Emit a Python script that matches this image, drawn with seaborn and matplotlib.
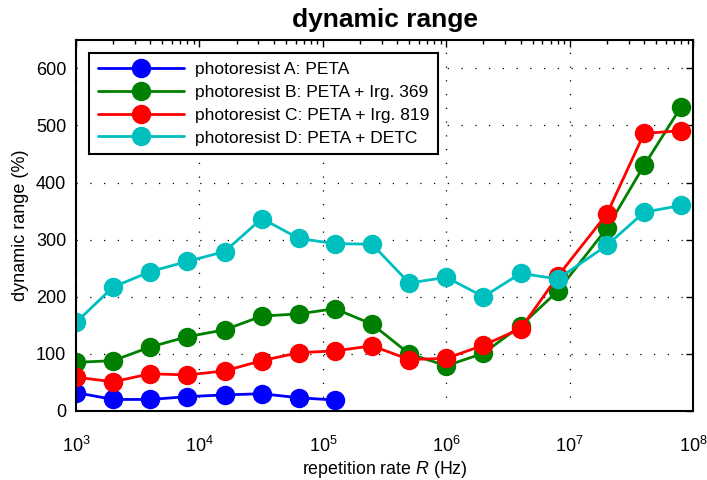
import numpy as np
import pandas as pd
import matplotlib
matplotlib.use("Agg")
import matplotlib.pyplot as plt
import seaborn as sns
from matplotlib.ticker import LogLocator, MultipleLocator

# repetition rates (Hz)
rate = [1e3, 2e3, 4e3, 8e3, 1.6e4, 3.2e4, 6.4e4, 1.25e5, 2.5e5, 5e5,
        1e6, 2e6, 4e6, 8e6, 2e7, 4e7, 8e7]

# dynamic range (%) per photoresist
dr_a = [32, 20, 20, 25, 28, 30, 23, 19]
dr_b = [85, 88, 112, 130, 142, 166, 170, 179, 152, 100, 79, 101, 149, 210, 320, 430, 533]
dr_c = [59, 51, 65, 63, 70, 88, 102, 105, 114, 90, 92, 115, 144, 236, 345, 486, 491]
dr_d = [155, 217, 244, 262, 279, 337, 302, 293, 292, 224, 234, 200, 241, 231, 290, 348, 360]

labels = ["photoresist A: PETA", "photoresist B: PETA + Irg. 369",
          "photoresist C: PETA + Irg. 819", "photoresist D: PETA + DETC"]
colors = ["#0000ff", "#008000", "#ff0000", "#00bfbf"]

sns.set_style("white")
plt.rcParams['font.family'] = ['Liberation Sans', 'DejaVu Sans']
plt.rcParams['mathtext.fontset'] = 'custom'
plt.rcParams['mathtext.rm'] = 'Liberation Sans'
plt.rcParams['mathtext.it'] = 'Liberation Sans:italic'
plt.rcParams['text.color'] = 'black'
plt.rcParams['axes.labelcolor'] = 'black'

fig = plt.figure(figsize=(7.07, 4.8), dpi=100)
ax = fig.add_axes([0.1075, 0.144, 0.873, 0.773])

for vals, lab, col in zip([dr_a, dr_b, dr_c, dr_d], labels, colors):
    df = pd.DataFrame({"rate": rate[:len(vals)], "dr": vals})
    sns.lineplot(data=df, x="rate", y="dr", ax=ax, color=col, label=lab,
                 marker="o", markersize=14, markeredgecolor=col,
                 markeredgewidth=0, linewidth=2)

ax.set_xscale("log")
ax.set_xlim(1e3, 1e8)
ax.set_ylim(0, 650)
ax.yaxis.set_major_locator(MultipleLocator(100))
ax.xaxis.set_major_locator(LogLocator(base=10, numticks=10))
ax.xaxis.set_minor_locator(LogLocator(base=10, subs=np.arange(2, 10), numticks=10))

ax.grid(True, which="major", color="black", linestyle=(0, (1, 10)), linewidth=0.9)
ax.tick_params(which="both", direction="in", top=True, right=True,
               labelsize=13, colors="black")
ax.tick_params(which="major", length=5, width=1)
ax.tick_params(which="minor", length=3, width=1)
ax.tick_params(axis="x", which="major", pad=18, labelsize=13)
ax.tick_params(axis="y", which="major", pad=7)
for s in ax.spines.values():
    s.set_color("black")
    s.set_linewidth(1.5)

ax.set_title("dynamic range", fontsize=19, fontweight="bold", pad=9)
ax.set_xlabel("repetition rate $\\it{R}$ (Hz)", fontsize=12.8, labelpad=2)
ax.set_ylabel("dynamic range (%)", fontsize=13, labelpad=5)

leg = ax.legend(loc="upper left", bbox_to_anchor=(0.021, 0.965),
                borderaxespad=0, fancybox=False, edgecolor="black",
                framealpha=1, fontsize=12.5, handlelength=5.0,
                handletextpad=0.6, labelspacing=0.45, borderpad=0.5)
leg.get_frame().set_linewidth(1.5)

fig.savefig("out.png", dpi=100)
